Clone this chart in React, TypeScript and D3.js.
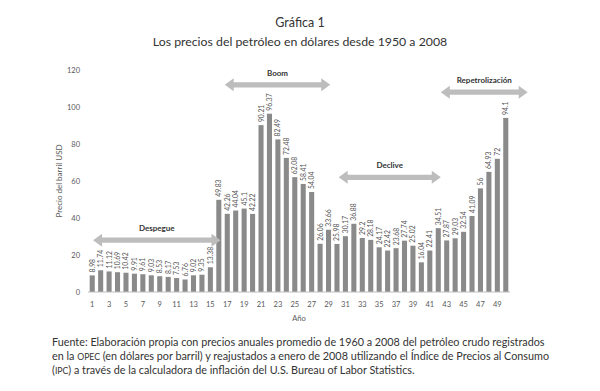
import React from 'react';
import * as d3 from 'd3';

// precio anual del barril (USD de 2008), posición 1..50
const prices = [
  8.98, 11.74, 11.12, 10.69, 10.42, 9.91, 9.61, 9.03, 8.53, 8.17,
  7.53, 6.76, 9.02, 9.35, 13.38, 49.83, 42.26, 44.04, 45.1, 42.22,
  90.21, 96.37, 82.49, 72.48, 62.08, 58.41, 54.04, 26.06, 33.66, 25.98,
  30.17, 36.88, 29.2, 28.18, 24.17, 22.42, 23.68, 27.74, 25.02, 16.04,
  22.41, 34.51, 27.87, 29.03, 32.54, 41.09, 56, 64.93, 72, 94.1,
];
const years = prices.map((_, i) => i + 1);
const yTicks = [0, 20, 40, 60, 80, 100, 120];

// etapas: nombre, inicio y fin (en posición de año), altura (USD)
const phaseNames = ['Despegue', 'Boom', 'Declive', 'Repetrolización'];
const phaseStart = [1.1, 16.7, 30.2, 42.3];
const phaseEnd = [16.2, 29.2, 42.3, 52.6];
const phaseLevel = [28, 112, 62, 108];

const W = 600;
const H = 391;
const font = 'Lato, "Open Sans", sans-serif';

function Arrow({ x1, x2, y }: { x1: number; x2: number; y: number }) {
  const hl = 9; // head length
  const hh = 6.5; // half head height
  const sh = 2.6; // half shaft
  const d = [
    `M${x1},${y}`,
    `L${x1 + hl},${y - hh}`,
    `L${x1 + hl},${y - sh}`,
    `L${x2 - hl},${y - sh}`,
    `L${x2 - hl},${y - hh}`,
    `L${x2},${y}`,
    `L${x2 - hl},${y + hh}`,
    `L${x2 - hl},${y + sh}`,
    `L${x1 + hl},${y + sh}`,
    `L${x1 + hl},${y + hh}`,
    'Z',
  ].join(' ');
  return <path d={d} fill="#bdbdbd" />;
}

export default function App() {
  const x = d3.scaleBand<number>().domain(years).range([88, 510]).paddingInner(0.4).paddingOuter(0.2);
  const step = x.step();
  const xc = d3.scaleLinear().domain([1, 50]).range([x(1)! + x.bandwidth() / 2, x(1)! + x.bandwidth() / 2 + step * 49]);
  const y = d3.scaleLinear().domain([0, 120]).range([292, 70]);

  return (
    <svg width={W} height={H} style={{ position: 'absolute', left: 0, top: 0 }} fontFamily={font}>
      <rect width={W} height={H} fill="#fff" />
      <text x={300} y={27} textAnchor="middle" fontSize={12.5} fill="#333">Gráfica 1</text>
      <text x={300} y={46} textAnchor="middle" fontSize={12.3} fill="#333">
        Los precios del petróleo en dólares desde 1950 a 2008
      </text>

      {/* eje y */}
      {yTicks.map(t => (
        <text key={t} x={80} y={y(t) + 3} textAnchor="end" fontSize={7.5} fill="#595959">{t}</text>
      ))}
      <text transform={`translate(62,${y(60)}) rotate(-90)`} textAnchor="middle" fontSize={8} fill="#595959">
        Precio del barril USD
      </text>

      {/* barras */}
      {prices.map((v, i) => (
        <rect key={i} x={x(years[i])} y={y(v)} width={x.bandwidth()} height={y(0) - y(v)} fill="#8a8a8a" />
      ))}
      {prices.map((v, i) => (
        <text
          key={'l' + i}
          transform={`translate(${x(years[i])! + x.bandwidth() / 2 + 2.5},${y(v) - 3}) rotate(-90)`}
          fontSize={6.8}
          fill="#555"
        >
          {String(v)}
        </text>
      ))}

      <line x1={88} x2={510} y1={y(0)} y2={y(0)} stroke="#bfbfbf" strokeWidth={1} />
      {years.filter(d => d % 2 === 1).map(d => (
        <text key={d} x={x(d)! + x.bandwidth() / 2} y={307} textAnchor="middle" fontSize={7.5} fill="#595959">{d}</text>
      ))}
      <text x={xc(25.5)} y={321} textAnchor="middle" fontSize={7.5} fill="#595959">Año</text>

      {/* etapas */}
      {phaseNames.map((n, i) => (
        <g key={n}>
          <Arrow x1={xc(phaseStart[i])} x2={xc(phaseEnd[i])} y={y(phaseLevel[i])} />
          <text
            x={(xc(phaseStart[i]) + xc(phaseEnd[i])) / 2}
            y={y(phaseLevel[i]) - 9}
            textAnchor="middle"
            fontSize={8}
            fontWeight={700}
            fill="#333"
          >
            {n}
          </text>
        </g>
      ))}

      {/* fuente */}
      <g fontSize={10.8} fill="#333">
        <text x={52} y={346}>
          Fuente: Elaboración propia con precios anuales promedio de 1960 a 2008 del petróleo crudo registrados
        </text>
        <text x={52} y={360}>
          en la <tspan fontSize={8.7}>OPEC</tspan> (en dólares por barril) y reajustados a enero de 2008 utilizando el Índice de Precios al Consumo
        </text>
        <text x={52} y={374}>
          (<tspan fontSize={8.7}>IPC</tspan>) a través de la calculadora de inflación del U.S. Bureau of Labor Statistics.
        </text>
      </g>
    </svg>
  );
}
